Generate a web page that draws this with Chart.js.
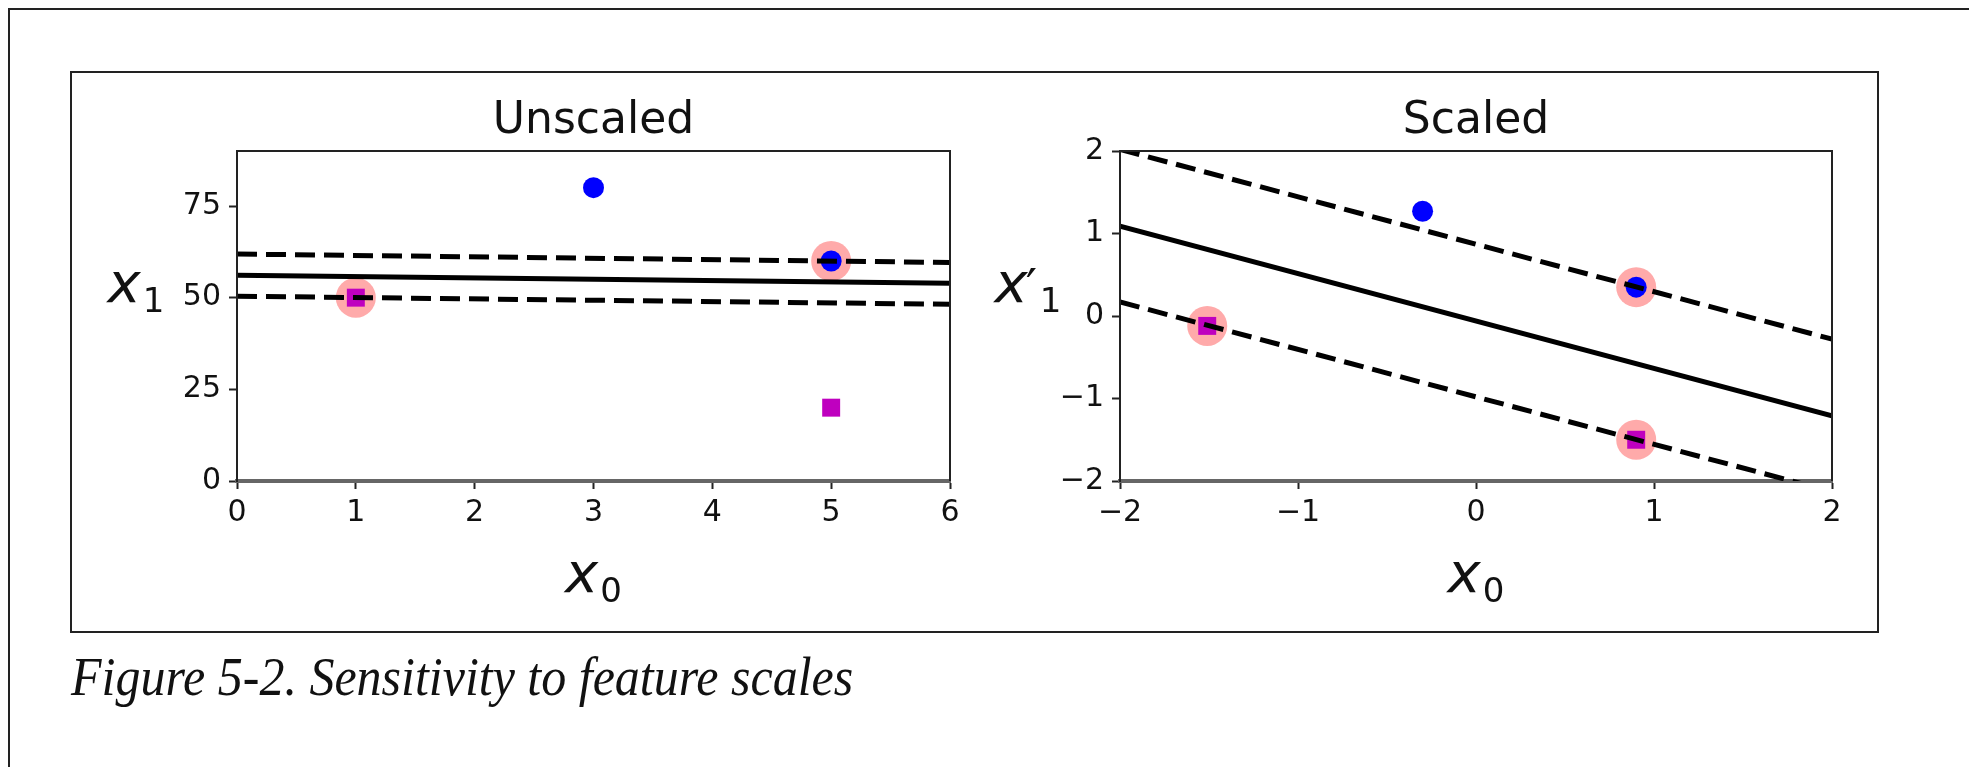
<!DOCTYPE html>
<html>
<head>
<meta charset="utf-8">
<script src="https://cdn.jsdelivr.net/npm/chart.js@4/dist/chart.umd.min.js"></script>
<style>
  html, body { margin: 0; padding: 0; background: #fff; }
  body { width: 1969px; height: 767px; position: relative; overflow: hidden; }
  .frame { position: absolute; left: 8px; top: 8px; right: -10px; bottom: -10px;
           border-top: 2px solid #222; border-left: 2px solid #222; }
  .box { position: absolute; left: 70px; top: 71px; width: 1805px; height: 558px;
         border: 2px solid #222; }
  canvas { position: absolute; left: 0; top: 0; }
  .caption { position: absolute; left: 71px; top: 653px; margin: 0;
             font-family: 'Liberation Serif', serif; font-style: italic;
             font-size: 50px; line-height: 50px; color: #111; white-space: nowrap;
             transform: scaleY(1.1); transform-origin: 0 42px; }
</style>
</head>
<body>
<div class="frame"></div>
<div class="box"></div>
<canvas id="unscaled" width="1969" height="767"></canvas>
<canvas id="scaled" width="1969" height="767"></canvas>
<p class="caption">Figure 5-2. Sensitivity to feature scales</p>

<script>
// ---- Unscaled data (x0, x1) ----
const unscaledBlue = [[3, 80], [5, 60]];
const unscaledMagenta = [[1, 50], [5, 20]];
const unscaledSupport = [[1, 50], [5, 60]];
const unscaledLineX = [0, 6];
const unscaledBoundary = [56.1, 53.9];
const unscaledUpper = [61.9, 59.6];
const unscaledLower = [50.4, 48.2];
const unscaledXTicks = [0, 1, 2, 3, 4, 5, 6];
const unscaledYTicks = [0, 25, 50, 75];

// ---- Scaled data ----
const scaledBlue = [[-0.30, 1.27], [0.90, 0.35]];
const scaledMagenta = [[-1.51, -0.12], [0.90, -1.50]];
const scaledSupport = [[-1.51, -0.12], [0.90, 0.35], [0.90, -1.50]];
const scaledLineX = [-2, 2];
const scaledBoundary = [1.09, -1.21];
const scaledUpper = [2.02, -0.28];
const scaledLower = [0.17, -2.13];
const scaledXTicks = [-2, -1, 0, 1, 2];
const scaledYTicks = [-2, -1, 0, 1, 2];

const FONT = "'DejaVu Sans', sans-serif";

const toPoints = pts => pts.map(p => ({ x: p[0], y: p[1] }));
const toLine = (xs, ys) => xs.map((x, i) => ({ x: x, y: ys[i] }));
const minus = v => String(v).replace('-', '\u2212');

// titles + matplotlib style math labels ($x_0$, $x_1$, $x'_1$)
const figText = {
    id: 'figText',
    afterDraw(chart, args, opts) {
        const ctx = chart.ctx;
        const a = chart.chartArea;
        ctx.save();
        ctx.fillStyle = '#111';
        ctx.textBaseline = 'alphabetic';

        // frame on top / right
        ctx.strokeStyle = '#222';
        ctx.lineWidth = 2;
        ctx.beginPath();
        ctx.moveTo(a.left, a.bottom);
        ctx.lineTo(a.left, a.top);
        ctx.lineTo(a.right, a.top);
        ctx.lineTo(a.right, a.bottom);
        ctx.stroke();

        ctx.font = '44px ' + FONT;
        ctx.textAlign = 'center';
        ctx.fillText(opts.title, (a.left + a.right) / 2, a.top - 18);

        const drawMath = (cx, base, sub, prime) => {
            ctx.textAlign = 'left';
            const big = 'italic 56px ' + FONT;
            const small = '34px ' + FONT;
            ctx.font = big;
            const wx = ctx.measureText('x').width;
            const wp = prime ? 10 : 0;
            ctx.font = small;
            const ws = ctx.measureText(sub).width;
            const total = wx + wp + ws + 2;
            let x = cx - total / 2;
            ctx.font = big;
            ctx.fillText('x', x, base);
            x += wx + 2;
            if (prime) {
                ctx.font = '50px ' + FONT;
                ctx.fillText('\u2032', x - 4, base + 2);
                x += wp;
            }
            ctx.font = small;
            ctx.fillText(sub, x, base + 10);
        };
        drawMath((a.left + a.right) / 2, a.bottom + 111, opts.xSub, false);
        drawMath(a.left - opts.yLabelOffset, (a.top + a.bottom) / 2 - 14, opts.ySub, opts.prime);
        ctx.restore();
    }
};

function makeChart(id, cfg) {
    const fixTicks = values => scale => { scale.ticks = values.map(v => ({ value: v })); };
    return new Chart(document.getElementById(id), {
        type: 'scatter',
        plugins: [figText],
        data: {
            datasets: [
                { data: toLine(cfg.lineX, cfg.upper), showLine: true, borderColor: '#000', borderWidth: 5,
                  borderDash: [20, 9], pointRadius: 0, clip: 0, order: 1 },
                { data: toLine(cfg.lineX, cfg.boundary), showLine: true, borderColor: '#000', borderWidth: 5,
                  pointRadius: 0, clip: 0, order: 1 },
                { data: toLine(cfg.lineX, cfg.lower), showLine: true, borderColor: '#000', borderWidth: 5,
                  borderDash: [20, 9], pointRadius: 0, clip: 0, order: 1 },
                { data: toPoints(cfg.blue), pointStyle: 'circle', pointRadius: 10.5, borderWidth: 0,
                  backgroundColor: '#0000ff', order: 2 },
                { data: toPoints(cfg.magenta), pointStyle: 'rect', pointRadius: 12.7, borderWidth: 0,
                  backgroundColor: '#bf00bf', order: 2 },
                { data: toPoints(cfg.support), pointStyle: 'circle', pointRadius: 20, borderWidth: 0,
                  backgroundColor: '#ffaaaa', order: 3 }
            ]
        },
        options: {
            responsive: false,
            animation: false,
            events: [],
            layout: { padding: cfg.padding },
            plugins: {
                legend: { display: false },
                tooltip: { enabled: false },
                figText: { title: cfg.title, xSub: '0', ySub: '1', prime: cfg.prime, yLabelOffset: cfg.yLabelOffset }
            },
            scales: {
                x: {
                    type: 'linear', min: cfg.xRange[0], max: cfg.xRange[1],
                    afterBuildTicks: fixTicks(cfg.xTicks),
                    afterFit: s => { s.height = 60; },
                    border: { display: true, color: '#666', width: 4 },
                    grid: { display: true, drawOnChartArea: false, drawTicks: true, tickLength: 8, tickWidth: 2, tickColor: '#222' },
                    ticks: { font: { family: FONT, size: 30 }, color: '#111', padding: 6, maxRotation: 0, callback: minus }
                },
                y: {
                    type: 'linear', min: cfg.yRange[0], max: cfg.yRange[1],
                    afterBuildTicks: fixTicks(cfg.yTicks),
                    afterFit: s => { s.width = cfg.padding.yWidth; },
                    border: { display: true, color: '#222', width: 2 },
                    grid: { display: true, drawOnChartArea: false, drawTicks: true, tickLength: 8, tickWidth: 2, tickColor: '#222' },
                    ticks: { font: { family: FONT, size: 30 }, color: '#111', padding: 8, callback: minus }
                }
            }
        }
    });
}

makeChart('unscaled', {
    title: 'Unscaled', prime: false, yLabelOffset: 101,
    xRange: [0, 6], yRange: [0, 90],
    xTicks: unscaledXTicks, yTicks: unscaledYTicks,
    blue: unscaledBlue, magenta: unscaledMagenta, support: unscaledSupport,
    lineX: unscaledLineX, boundary: unscaledBoundary, upper: unscaledUpper, lower: unscaledLower,
    padding: { left: 0, top: 151, right: 1969 - 950, bottom: 767 - 481 - 60, yWidth: 237 }
});

makeChart('scaled', {
    title: 'Scaled', prime: true, yLabelOffset: 92,
    xRange: [-2, 2], yRange: [-2, 2],
    xTicks: scaledXTicks, yTicks: scaledYTicks,
    blue: scaledBlue, magenta: scaledMagenta, support: scaledSupport,
    lineX: scaledLineX, boundary: scaledBoundary, upper: scaledUpper, lower: scaledLower,
    padding: { left: 0, top: 151, right: 1969 - 1832, bottom: 767 - 481 - 60, yWidth: 1120 }
});
</script>
</body>
</html>
